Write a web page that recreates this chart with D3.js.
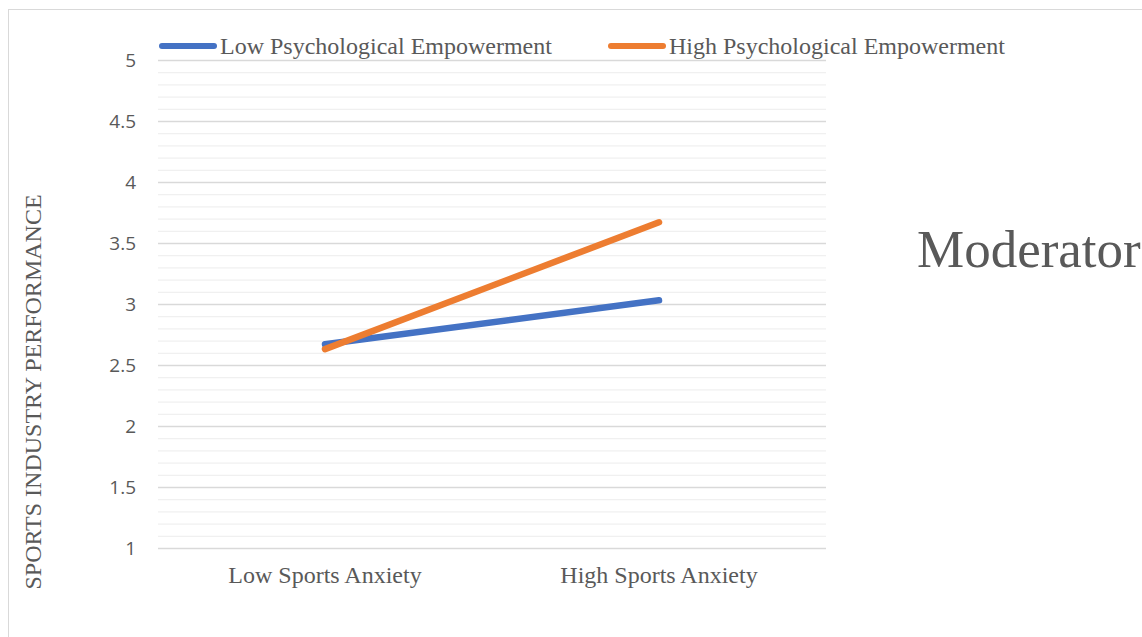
<!DOCTYPE html>
<html>
<head>
<meta charset="utf-8">
<script src="https://cdn.jsdelivr.net/npm/d3@7"></script>
<style>
  html, body { margin: 0; padding: 0; background: #ffffff; }
  svg { display: block; }
</style>
</head>
<body>
<svg id="chart" width="1142" height="637"></svg>
<script>
// ---- data ----
const categories = ["Low Sports Anxiety", "High Sports Anxiety"];
const seriesNames = ["Low Psychological Empowerment", "High Psychological Empowerment"];
const lowEmpowerment = [2.67, 3.03];
const highEmpowerment = [2.63, 3.67];
const yTicks = [1, 1.5, 2, 2.5, 3, 3.5, 4, 4.5, 5];
const yTickLabels = ["1", "1.5", "2", "2.5", "3", "3.5", "4", "4.5", "5"];
const yTitle = "SPORTS INDUSTRY PERFORMANCE";
const sideTitle = "Moderator";

// ---- layout ----
const svg = d3.select("#chart");
const W = 1142, H = 637;
const plot = { left: 158, right: 826, top: 60, bottom: 548 };
const colors = ["#4472C4", "#ED7D31"];
const textColor = "#595959";
const serif = "'Liberation Serif', 'Times New Roman', serif";
const sans = "'Open Sans', 'Liberation Sans', sans-serif";

// chart frame (only top/left visible)
svg.append("rect")
  .attr("x", 8.5).attr("y", 9.5)
  .attr("width", W + 20).attr("height", H + 20)
  .attr("fill", "none").attr("stroke", "#d9d9d9").attr("stroke-width", 1);

const x = d3.scaleBand().domain(categories).range([plot.left, plot.right]);
const y = d3.scaleLinear().domain([1, 5]).range([plot.bottom, plot.top]);

// minor gridlines
const minor = d3.range(10, 51).map(v => v / 10).filter(v => Math.round(v * 10) % 5 !== 0);
svg.append("g")
  .attr("transform", `translate(${plot.left},0)`)
  .call(d3.axisLeft(y).tickValues(minor).tickSize(-(plot.right - plot.left)).tickFormat(""))
  .call(g => g.select(".domain").remove())
  .call(g => g.selectAll("line").attr("stroke", "#f0f0f0").attr("stroke-width", 1.2));

// major gridlines + labels
svg.append("g")
  .attr("transform", `translate(${plot.left},0)`)
  .call(d3.axisLeft(y).tickValues(yTicks).tickSize(-(plot.right - plot.left))
        .tickFormat((d, i) => yTickLabels[i]).tickPadding(22))
  .call(g => g.select(".domain").remove())
  .call(g => g.selectAll("line").attr("stroke", "#d9d9d9").attr("stroke-width", 1.3))
  .call(g => g.selectAll("text").attr("fill", textColor)
        .style("font-family", sans).style("font-size", "19px"));

// x axis labels
svg.append("g")
  .attr("transform", `translate(0,${plot.bottom})`)
  .call(d3.axisBottom(x).tickSize(0).tickPadding(18))
  .call(g => g.select(".domain").remove())
  .call(g => g.selectAll("text").attr("fill", textColor)
        .style("font-family", serif).style("font-size", "24px"));

// lines
const line = d3.line().x((d, i) => x(categories[i]) + x.bandwidth() / 2).y(d => y(d));
[lowEmpowerment, highEmpowerment].forEach((vals, i) => {
  svg.append("path")
    .datum(vals)
    .attr("d", line)
    .attr("fill", "none")
    .attr("stroke", colors[i])
    .attr("stroke-width", 6.5)
    .attr("stroke-linecap", "round")
    .attr("stroke-linejoin", "round");
});

// legend
const legendX = [159, 608];
seriesNames.forEach((name, i) => {
  const g = svg.append("g").attr("transform", `translate(${legendX[i]},46)`);
  g.append("line").attr("x1", 3).attr("x2", 55).attr("y1", 0).attr("y2", 0)
    .attr("stroke", colors[i]).attr("stroke-width", 6).attr("stroke-linecap", "round");
  g.append("text").attr("x", 61).attr("y", 8)
    .attr("fill", textColor).style("font-family", serif).style("font-size", "24px")
    .text(name);
});

// y axis title
svg.append("text")
  .attr("transform", "translate(41,392) rotate(-90)")
  .attr("text-anchor", "middle")
  .attr("fill", textColor)
  .style("font-family", serif).style("font-size", "24px")
  .text(yTitle);

// side title
svg.append("text")
  .attr("x", 917).attr("y", 267)
  .attr("fill", textColor)
  .style("font-family", serif).style("font-size", "53px")
  .text(sideTitle);
</script>
</body>
</html>
